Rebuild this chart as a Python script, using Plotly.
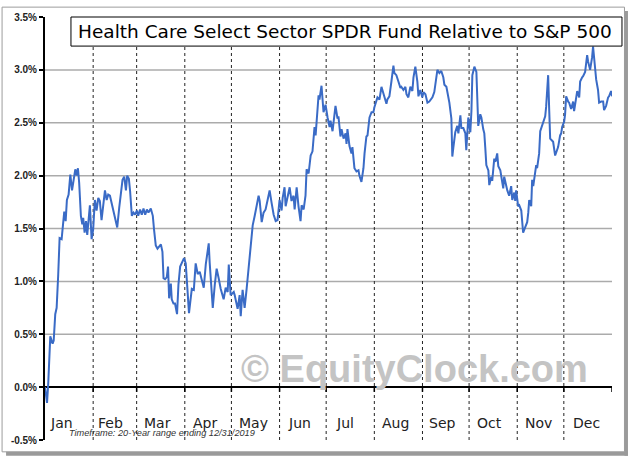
import plotly.graph_objects as go

# Day-of-year positions and relative performance values (%)
days = [0, 1.3, 2.1, 3.4, 4.9, 5.6, 6.6, 7.5, 8.5, 9.4, 10.7, 11.6, 12.4, 13.3, 14.1, 15.2, 16.3, 17.4, 18.4, 19.5,
        20.4, 21.2, 22.0, 23.1, 24.0, 24.6, 25.5, 26.4, 27.2, 28.1, 28.9, 30.0, 31.0, 32.1, 33.2, 34.3, 35.3, 36.4,
        37.5, 38.6, 39.7, 40.7, 41.8, 43.1, 44.2, 45.4, 46.5, 47.8, 48.8, 49.9, 51.0, 52.1, 52.9, 54.0, 54.8, 55.9,
        57.0, 58.0, 59.1, 60.0, 61.2, 62.3, 63.4, 64.5, 65.6, 66.6, 68.1, 69.4, 70.2, 71.3, 72.4, 73.7, 74.6, 75.6,
        76.3, 77.3, 78.4, 79.2, 79.9, 81.0, 81.6, 82.7, 83.7, 85.0, 85.9, 87.0, 88.5, 89.5, 90.6, 91.7, 92.7,
        94.5, 95.8, 97.0, 98.3, 99.6, 100.9, 102.2, 103.5, 105.4, 106.0, 108.0, 109.3, 110.5, 111.8, 113.1, 115.0,
        116.3, 117.6, 118.3, 119.5, 121.5, 122.1, 124.0, 125.3, 126.0, 127.2, 128.5, 129.8, 131.1, 132.4, 133.7,
        135.0, 136.2, 137.5, 138.2, 139.5, 140.7, 142.0, 143.3, 144.6, 145.9, 147.2, 148.5, 149.7, 151.0, 152.3,
        153.0, 154.2, 154.9, 156.2, 157.5, 158.7, 160.0, 160.7, 162.0, 163.2, 164.5, 165.2, 166.5, 167.7, 168.4,
        169.7, 171.0, 172.2, 173.5, 174.2, 174.8, 176.1, 176.7, 178.0, 179.3, 180.6, 181.9, 183.2, 183.8, 185.1,
        187.0, 188.3, 188.9, 190.2, 190.9, 192.2, 193.5, 194.1, 194.7, 196.0, 197.3, 197.9, 199.2, 200.5, 201.8,
        202.4, 203.7, 205.0, 205.7, 206.9, 207.6, 208.9, 210.2, 211.4, 212.1, 213.4, 214.0, 215.3, 216.6, 217.2,
        218.5, 219.8, 220.4, 221.7, 223.0, 224.3, 224.9, 226.2, 227.5, 228.8, 229.4, 230.7, 232.0, 232.7, 233.9,
        235.2, 236.5, 237.2, 238.4, 239.7, 240.4, 241.6, 242.9, 243.6, 244.9, 246.2, 247.4, 249.4, 250.6, 251.9,
        252.6, 253.9, 255.1, 256.4, 257.1, 258.4, 259.6, 260.3, 261.6, 262.2, 262.9, 264.1, 265.4, 266.1, 267.4,
        268.0, 269.3, 270.6, 271.2, 271.9, 272.5, 273.8, 274.5, 275.1, 276.4, 277.7, 278.3, 278.9, 280.2, 280.9,
        282.1, 282.8, 283.4, 284.1, 285.4, 286.0, 287.3, 287.9, 289.2, 289.9, 291.1, 291.8, 293.1, 293.7, 295.0,
        295.6, 296.9, 297.6, 298.8, 300.1, 300.8, 302.1, 302.7, 303.3, 304.6, 305.3, 306.6, 307.2, 307.8, 309.1,
        310.4, 311.1, 311.7, 313.0, 313.6, 314.3, 315.6, 316.2, 316.8, 318.1, 318.8, 320.1, 320.7, 322.0, 322.6,
        323.3, 323.9, 324.6, 325.2, 326.5, 327.1, 328.4, 329.7, 330.3, 331.6, 332.3, 332.9, 334.2, 334.8, 335.5,
        336.8, 337.4, 338.7, 340.0, 340.6, 341.9, 342.6, 343.9, 344.5, 345.8, 346.4, 347.7, 349.0, 349.6, 350.9,
        352.2, 352.8, 354.1, 354.8, 356.0, 356.7, 358.0, 359.3, 359.9, 361.2, 362.5, 363.1, 364.4, 365.0]

values = [0.00, -0.15, 0.04, 0.48, 0.41, 0.44, 0.69, 0.75, 1.06, 1.41, 1.40, 1.59, 1.66, 1.57, 1.77, 1.82, 2.01, 1.86, 1.95, 2.06,
          2.00, 2.07, 1.93, 1.62, 1.54, 1.60, 1.46, 1.57, 1.44, 1.60, 1.72, 1.40, 1.49, 1.77, 1.67, 1.79, 1.76, 1.58,
          1.74, 1.86, 1.77, 1.82, 1.81, 1.72, 1.65, 1.58, 1.51, 1.70, 1.86, 1.96, 1.99, 1.86, 2.00, 1.97, 1.85, 1.62,
          1.65, 1.63, 1.67, 1.62, 1.68, 1.63, 1.69, 1.63, 1.68, 1.65, 1.69, 1.62, 1.49, 1.34, 1.31, 1.33, 1.35, 1.28,
          1.03, 1.02, 1.04, 1.14, 0.84, 0.98, 0.83, 0.79, 0.79, 0.69, 0.97, 1.14, 1.20, 1.22, 1.17, 0.90, 0.70,
          0.93, 0.92, 1.17, 1.07, 1.09, 1.02, 0.94, 1.16, 1.36, 1.18, 0.75, 0.97, 1.12, 1.03, 0.93, 0.83,
          0.94, 0.90, 1.16, 0.87, 0.90, 0.87, 0.74, 0.87, 0.67, 0.92, 0.75, 0.93, 1.12, 1.31, 1.53,
          1.62, 1.71, 1.81, 1.76, 1.56, 1.65, 1.68, 1.77, 1.86, 1.74, 1.63, 1.57, 1.58, 1.77, 1.67,
          1.79, 1.89, 1.71, 1.81, 1.89, 1.76, 1.81, 1.68, 1.89, 1.71, 1.57, 1.72, 1.68, 1.81, 2.06,
          2.02, 2.19, 2.23, 2.46, 2.38, 2.49, 2.76, 2.72, 2.85, 2.60, 2.67, 2.55, 2.46, 2.52, 2.42,
          2.66, 2.54, 2.56, 2.37, 2.44, 2.35, 2.40, 2.30, 2.44, 2.28, 2.21, 2.27, 2.07, 2.04, 2.05,
          2.00, 1.94, 2.07, 2.21, 2.37, 2.38, 2.55, 2.60, 2.60, 2.65, 2.70, 2.74, 2.72, 2.84, 2.81,
          2.75, 2.68, 2.72, 2.75, 2.89, 3.04, 2.97, 2.95, 2.89, 2.83, 2.84, 2.81, 2.84, 2.77, 2.74,
          2.84, 2.80, 2.93, 3.03, 2.89, 2.75, 2.81, 2.74, 2.79, 2.77, 2.69, 2.70, 2.74, 2.79, 2.94,
          3.00, 2.97, 2.99, 2.93, 2.86, 2.84, 2.75, 2.69, 2.54, 2.18, 2.27, 2.41, 2.47, 2.40, 2.57,
          2.45, 2.45, 2.40, 2.24, 2.44, 2.55, 2.41, 2.61, 2.95, 3.03, 2.98, 2.74, 2.47, 2.58, 2.55,
          2.44, 2.40, 2.27, 2.10, 2.05, 1.91, 1.99, 1.95, 2.16, 2.13, 2.21, 2.09, 2.05, 1.98, 1.88,
          1.99, 1.90, 1.86, 1.81, 1.90, 1.77, 1.84, 1.76, 1.86, 1.71, 1.72, 1.67, 1.53, 1.46, 1.51,
          1.56, 1.65, 1.77, 1.71, 1.96, 1.90, 2.02, 2.10, 2.07, 2.21, 2.42, 2.47, 2.51, 2.56, 2.65,
          2.77, 2.95, 2.61, 2.35, 2.33, 2.32, 2.19, 2.26, 2.27, 2.38, 2.40, 2.46, 2.51, 2.58, 2.75,
          2.70, 2.69, 2.63, 2.70, 2.61, 2.72, 2.80, 2.74, 2.89, 2.93, 2.94, 2.98, 3.14, 3.08, 3.00,
          3.12, 3.22, 3.02, 2.91, 2.81, 2.69, 2.70, 2.70, 2.62, 2.66, 2.74, 2.75, 2.80, 2.75]

month_names = ["Jan", "Feb", "Mar", "Apr", "May", "Jun", "Jul", "Aug", "Sep", "Oct", "Nov", "Dec"]
month_starts = [0, 31, 59, 90, 120, 151, 181, 212, 243, 273, 304, 334, 365]
month_label_days = [10.6, 42.1, 72.3, 102.8, 134.3, 163.6, 192.8, 225.9, 256.1, 286.3, 317.8, 348.3]
y_ticks = [-0.5, 0.0, 0.5, 1.0, 1.5, 2.0, 2.5, 3.0, 3.5]
y_labels = ["-0.5%", "0.0%", "0.5%", "1.0%", "1.5%", "2.0%", "2.5%", "3.0%", "3.5%"]

title_text = "Health Care Select Sector SPDR Fund Relative to S&P 500"
footnote_text = "Timeframe: 20-Year range ending 12/31/2019"
watermark_text = "© EquityClock.com"

W, H = 628, 457
L, R, T, B = 44, 16, 11, 17
pw, ph = W - L - R, H - T - B


def px_x(px):
    return (px - L) / pw


def px_y(py):
    return (H - B - py) / ph


fig = go.Figure()

# horizontal gridlines (excluding range edges)
shapes = []
for v in y_ticks[2:-1]:
    shapes.append(dict(type="line", xref="x", yref="y", x0=0, x1=365, y0=v, y1=v,
                       line=dict(color="#ababab", width=1.5), layer="below"))
# dotted month separators
for d in month_starts[1:-1]:
    shapes.append(dict(type="line", xref="x", yref="y", x0=d, x1=d, y0=-0.5, y1=3.5,
                       line=dict(color="#222222", width=1, dash="dot"), layer="below"))
# ticks on zero line
for d in month_starts[1:]:
    shapes.append(dict(type="line", xref="x", yref="y", x0=d, x1=d, y0=0, y1=-0.045,
                       line=dict(color="#000000", width=1.5), layer="below"))

fig.add_trace(go.Scatter(x=days, y=values, mode="lines",
                         line=dict(color="#3A6BC6", width=2), hoverinfo="skip",
                         showlegend=False))

# outer frame and shadow
shapes.append(dict(type="rect", xref="paper", yref="paper",
                   x0=px_x(624.5), x1=px_x(628), y0=px_y(456), y1=px_y(5),
                   line=dict(width=0), fillcolor="#9a9a9a", layer="above"))
shapes.append(dict(type="rect", xref="paper", yref="paper",
                   x0=px_x(5), x1=px_x(628), y0=px_y(456), y1=px_y(452),
                   line=dict(width=0), fillcolor="#9a9a9a", layer="above"))
shapes.append(dict(type="rect", xref="paper", yref="paper",
                   x0=px_x(1), x1=px_x(624.5), y0=px_y(452), y1=px_y(1),
                   line=dict(color="#9c9c9c", width=1), fillcolor="rgba(0,0,0,0)", layer="above"))
# title box
shapes.append(dict(type="rect", xref="paper", yref="paper",
                   x0=px_x(70), x1=px_x(622), y0=px_y(40.5), y1=px_y(11),
                   line=dict(color="#000000", width=1), fillcolor="#ffffff", layer="above"))

annotations = []
for name, d in zip(month_names, month_label_days):
    annotations.append(dict(x=d, y=-0.335, xref="x", yref="y", text=name, showarrow=False,
                            font=dict(family="DejaVu Sans", size=14, color="#222222"),
                            xanchor="center", yanchor="middle"))
annotations.append(dict(x=px_x(345), y=px_y(25.5), xref="paper", yref="paper", text=title_text,
                        showarrow=False, xanchor="center", yanchor="middle",
                        font=dict(family="DejaVu Sans", size=18.5, color="#000000")))
annotations.append(dict(x=px_x(414), y=px_y(368), xref="paper", yref="paper", text=watermark_text,
                        showarrow=False, xanchor="center", yanchor="middle",
                        font=dict(family="Liberation Sans", size=38, color="#c4c4c4", weight="bold")))
annotations.append(dict(x=px_x(66), y=px_y(433), xref="paper", yref="paper",
                        text="<i>" + footnote_text + "</i>",
                        showarrow=False, xanchor="left", yanchor="middle",
                        font=dict(family="Liberation Sans", size=9.2, color="#333333")))

fig.update_layout(
    width=W, height=H, autosize=False,
    margin=dict(l=L, r=R, t=T, b=B, pad=0),
    paper_bgcolor="#ffffff", plot_bgcolor="#ffffff",
    shapes=shapes, annotations=annotations,
    xaxis=dict(range=[0, 365], showgrid=False, zeroline=False, showticklabels=False,
               ticks="", showline=False, fixedrange=True),
    yaxis=dict(range=[-0.5, 3.5], tickvals=y_ticks, ticktext=y_labels, showgrid=False,
               zeroline=True, zerolinecolor="#000000", zerolinewidth=2,
               showline=True, linecolor="#000000", linewidth=2,
               ticks="outside", ticklen=4, tickwidth=2, tickcolor="#000000",
               tickfont=dict(family="Liberation Sans", size=10, color="#222222", weight="bold"),
               fixedrange=True),
)

fig.write_html("out.html", config={"displayModeBar": False},
               post_script="document.body.style.margin='0';document.body.style.overflow='hidden';")
